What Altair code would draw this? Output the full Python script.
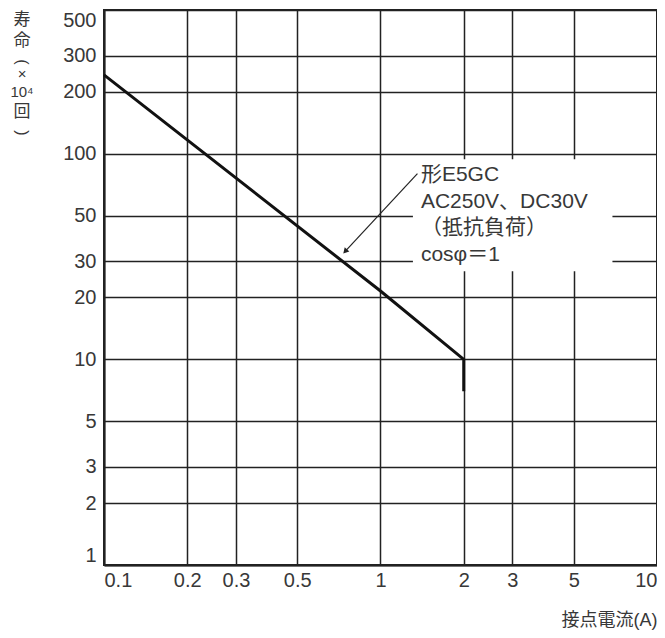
import altair as alt
import pandas as pd

# ---- data ----
current = [0.1, 1, 2, 2]          # A
life = [242, 21.5, 10, 7]         # x10^4 operations

x_ticks = [0.1, 0.2, 0.3, 0.5, 1, 2, 3, 5, 10]
y_ticks = [1, 2, 3, 5, 10, 20, 30, 50, 100, 200, 300, 500]

note_lines = ["形E5GC", "AC250V、DC30V", "（抵抗負荷）", "cosφ＝1"]
note_x = [1.40, 1.40, 1.40, 1.40]
note_y = [79, 58, 43.6, 32.2]

box_x, box_x2, box_y, box_y2 = [1.31], [6.9], [26.8], [94]
arrow_x = [1.36, 0.745]
arrow_y = [80, 33.5]

FONT = "Liberation Sans, 'Noto Sans CJK JP', sans-serif"
INK = "#222222"
TXT = "#383838"

curve_df = pd.DataFrame({"x": current, "y": life, "o": list(range(len(current)))})
note_df = pd.DataFrame({"x": note_x, "y": note_y, "t": note_lines})
box_df = pd.DataFrame({"x": box_x, "x2": box_x2, "y": box_y, "y2": box_y2})
arrow_df = pd.DataFrame({"x": arrow_x, "y": arrow_y, "o": [0, 1]})
head_df = pd.DataFrame({"x": [arrow_x[1]], "y": [arrow_y[1]]})

xs = alt.Scale(type="log", domain=[0.1, 10], nice=False)
ys = alt.Scale(type="log", domain=[1, 500], nice=False)

X = alt.X("x:Q", scale=xs, axis=alt.Axis(
    values=x_ticks, format="~g", labelFlush=True, ticks=False, grid=True,
    labelPadding=5, title="接点電流(A)", titleX=553, titleY=55,
    titleAlign="right", titleBaseline="middle"))
Y = alt.Y("y:Q", scale=ys, axis=alt.Axis(
    values=y_ticks, format="~g", labelFlush=True, ticks=False, grid=True,
    labelPadding=8, title=None))

curve = alt.Chart(curve_df).mark_line(color="#111111", strokeWidth=3).encode(
    x=X, y=Y, order="o:Q")

box = alt.Chart(box_df).mark_rect(color="white").encode(
    x=X, x2="x2:Q", y=Y, y2="y2:Q")

note = alt.Chart(note_df).mark_text(
    align="left", baseline="middle", font=FONT, fontSize=21, color=TXT
).encode(x=X, y=Y, text="t:N")

arrow = alt.Chart(arrow_df).mark_line(color=INK, strokeWidth=1.2).encode(
    x=X, y=Y, order="o:Q")

head = alt.Chart(head_df).mark_point(
    shape="triangle-up", filled=True, angle=223, size=40, color=INK, opacity=1
).encode(x=X, y=Y)

# vertical y-axis title: 寿命（×10⁴回）
ytitle_parts = [("寿", 10, 0, 17), ("命", 31, 0, 17), ("(", 52, 90, 16),
                ("×", 64, 0, 15), ("10⁴", 82, 0, 15), ("回", 102, 0, 17),
                (")", 123, 90, 16)]
ytitle_layers = [
    alt.Chart(pd.DataFrame({"t": [t]})).mark_text(
        align="center", baseline="middle", font=FONT, fontSize=fs,
        color=TXT, angle=a
    ).encode(x=alt.value(-82), y=alt.value(yy), text="t:N")
    for t, yy, a, fs in ytitle_parts
]

chart = alt.layer(box, curve, arrow, head, note, *ytitle_layers).properties(
    width=553, height=555, autosize="none",
    padding={"left": 96, "top": 2, "right": 0, "bottom": 65}
).configure_view(stroke=INK, strokeWidth=2).configure_axis(
    labelFont=FONT, labelFontSize=20, labelColor=TXT,
    titleFont=FONT, titleFontSize=18, titleColor=TXT, titleFontWeight="normal",
    gridColor=INK, gridWidth=1.5, gridOpacity=1,
    domainColor=INK, domainWidth=2
)

chart.save("out.html", embed_options={"renderer": "svg", "actions": False})
